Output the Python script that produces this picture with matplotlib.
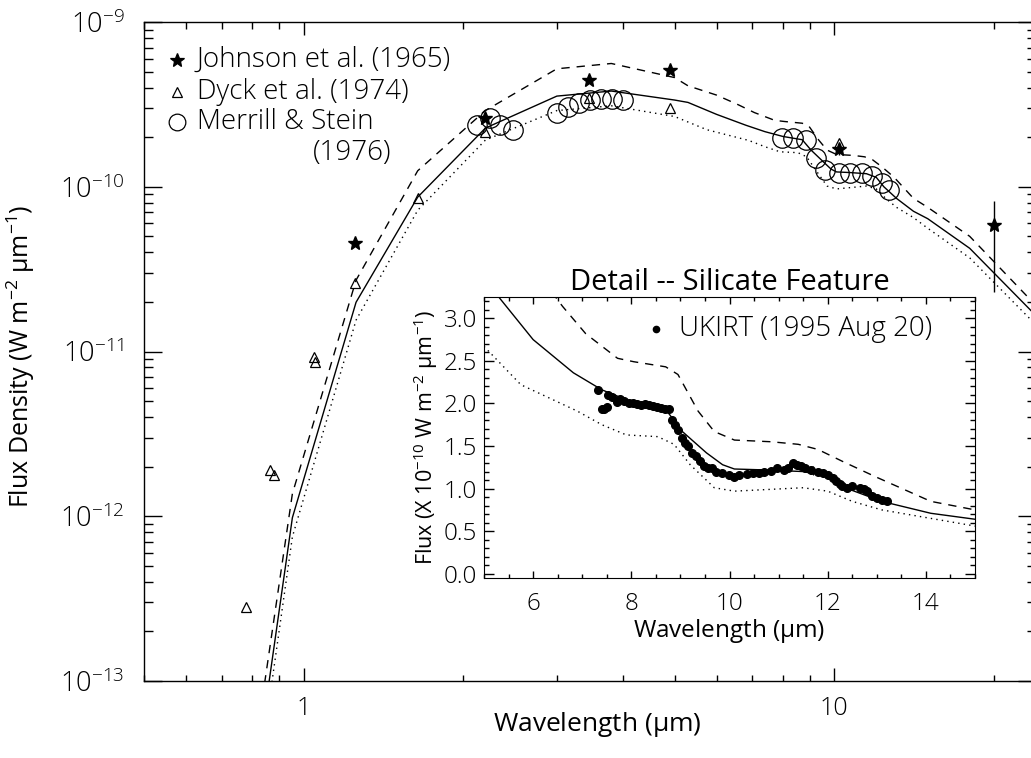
import numpy as np
import matplotlib
matplotlib.use("Agg")
import matplotlib.pyplot as plt
from matplotlib.ticker import LogLocator, FixedLocator, MultipleLocator, NullFormatter, FuncFormatter

plt.rcParams['font.family'] = ['Open Sans', 'DejaVu Sans']
plt.rcParams['font.weight'] = 'light'
plt.rcParams['mathtext.fontset'] = 'custom'
plt.rcParams['mathtext.rm'] = 'Open Sans:light'
plt.rcParams['mathtext.it'] = 'Open Sans:italic:light'
plt.rcParams['mathtext.default'] = 'regular'

# ---------------- data ----------------
# Johnson et al. (1965) (wavelength um, flux W m^-2 um^-1)
johnson_wl = [1.25, 2.2, 3.45, 4.9, 10.2, 20.0]
johnson_f = [4.54e-11, 2.61e-10, 4.45e-10, 5.11e-10, 1.70e-10, 5.9e-11]
johnson_err_lo = [0, 0, 0, 0, 1.5e-11, 3.6e-11]
johnson_err_hi = [0, 0, 0, 0, 1.5e-11, 2.3e-11]

# Dyck et al. (1974)
dyck_wl = [0.78, 0.865, 0.878, 1.046, 1.05, 1.25, 1.64, 2.2, 3.45, 4.9, 10.2]
dyck_f = [2.83e-13, 1.92e-12, 1.79e-12, 9.2e-12, 8.6e-12, 2.6e-11, 8.5e-11,
          2.15e-10, 3.45e-10, 3.0e-10, 1.84e-10]

# Merrill & Stein (1976)
merrill_wl = [2.12, 2.24, 2.34, 2.48, 3.00, 3.15, 3.30, 3.46, 3.63, 3.81, 3.99,
              7.96, 8.35, 8.84, 9.22, 9.62, 10.2, 10.7, 11.3, 11.8, 12.3, 12.7]
merrill_f = [2.37e-10, 2.61e-10, 2.37e-10, 2.21e-10, 2.80e-10, 3.05e-10, 3.22e-10,
             3.36e-10, 3.40e-10, 3.40e-10, 3.36e-10,
             1.97e-10, 1.97e-10, 1.92e-10, 1.49e-10, 1.26e-10, 1.21e-10, 1.21e-10,
             1.21e-10, 1.16e-10, 1.05e-10, 0.955e-10]

# Models (flux in units of 1e-10 W m^-2 um^-1)
solid_wl = [0.80, 0.952, 1.255, 1.64, 2.2, 3.0, 3.8, 5.0, 5.3, 6.0, 6.82, 7.4, 8.0,
            8.7, 9.04, 9.53, 9.86, 10.1, 10.68, 11.5, 12.0, 12.4, 13.1, 14.1, 15.0,
            18.0, 24.0]
solid_f = [0.00019, 0.0098, 0.199, 0.865, 2.27, 3.55, 3.81, 3.36, 3.25, 2.75, 2.36,
           2.16, 2.02, 1.93, 1.67, 1.42, 1.28, 1.23, 1.22, 1.20, 1.14, 1.00, 0.85,
           0.71, 0.64, 0.423, 0.165]

dashed_wl = [0.80, 0.952, 1.255, 1.64, 2.2, 3.0, 3.8, 5.0, 5.3, 6.0, 6.6, 7.07, 7.72,
             8.05, 8.7, 8.95, 9.36, 9.69, 10.1, 10.85, 11.4, 11.8, 12.3, 12.97, 14.1,
             15.0, 18.0, 24.0]
dashed_f = [0.0003, 0.0137, 0.271, 1.25, 2.9, 5.2, 5.6, 4.6, 4.1, 3.6, 3.14, 2.82,
            2.53, 2.49, 2.43, 2.34, 1.91, 1.67, 1.57, 1.55, 1.52, 1.46, 1.32, 1.14,
            0.85, 0.75, 0.50, 0.19]

dotted_wl = [0.80, 0.952, 1.255, 1.64, 2.2, 3.0, 3.8, 5.0, 5.75, 6.9, 7.4, 7.9, 8.54,
             8.87, 9.2, 9.69, 10.1, 11.5, 12.0, 12.5, 13.1, 14.1, 15.0, 18.0, 24.0]
dotted_f = [0.00014, 0.0075, 0.155, 0.72, 1.92, 2.9, 3.1, 2.67, 2.22, 1.91, 1.75,
            1.63, 1.61, 1.52, 1.28, 1.01, 0.97, 1.01, 0.97, 0.85, 0.75, 0.65, 0.56,
            0.37, 0.145]

# UKIRT (1995 Aug 20) spectrum, units 1e-10
ukirt_wl = [7.33, 7.40, 7.45, 7.50, 7.52, 7.60, 7.70, 7.78, 7.86, 7.95, 8.03, 8.11,
            8.19, 8.28, 8.36, 8.44, 8.52, 8.60, 8.68, 8.76, 8.83, 8.90, 8.95, 9.03,
            9.10, 9.15, 9.23, 9.32, 9.40, 9.48, 9.57, 9.65, 9.73, 9.85, 9.98, 10.10,
            10.20, 10.35, 10.47, 10.60, 10.70, 10.85, 10.97, 11.10, 11.20, 11.30,
            11.38, 11.46, 11.54, 11.67, 11.80, 11.90, 12.00, 12.10, 12.17, 12.25,
            12.30, 12.40, 12.50, 12.65, 12.73, 12.80, 12.90, 13.00, 13.10, 13.20]
ukirt_f = [2.16, 1.93, 1.94, 1.96, 2.10, 2.07, 2.02, 2.05, 2.03, 2.00, 2.00, 1.99,
           1.98, 1.99, 1.98, 1.97, 1.96, 1.95, 1.93, 1.93, 1.81, 1.75, 1.69, 1.59,
           1.54, 1.50, 1.42, 1.38, 1.32, 1.26, 1.24, 1.24, 1.20, 1.18, 1.16, 1.14,
           1.16, 1.17, 1.18, 1.18, 1.20, 1.21, 1.24, 1.22, 1.24, 1.30, 1.28, 1.26,
           1.24, 1.22, 1.20, 1.18, 1.16, 1.12, 1.09, 1.05, 1.03, 1.01, 1.03, 1.01,
           0.99, 0.97, 0.91, 0.89, 0.87, 0.85]

xticks_main = [1, 10]
yticks_main = [1e-13, 1e-12, 1e-11, 1e-10, 1e-9]
inset_xticks = [6, 8, 10, 12, 14]
inset_yticks = [0.0, 0.5, 1.0, 1.5, 2.0, 2.5, 3.0]

# ---------------- figure ----------------
W, H = 1031, 758
fig = plt.figure(figsize=(W / 100, H / 100), dpi=100)
fig.patch.set_facecolor('white')

def fx(px):
    return px / W

def fy(py):
    return 1 - py / H

PT = 72 / 100.0  # points per pixel

AX_L, AX_R, AX_T, AX_B = 144, 1036, 22, 681
ax = fig.add_axes([fx(AX_L), fy(AX_B), fx(AX_R) - fx(AX_L), fy(AX_T) - fy(AX_B)])
ax.set_xscale('log')
ax.set_yscale('log')
ax.set_xlim(0.5, 24)
ax.set_ylim(1e-13, 1e-9)

scale = 1e-10
lw = 1.0
ax.plot(solid_wl, np.array(solid_f) * scale, '-', color='black', lw=lw)
ax.plot(dashed_wl, np.array(dashed_f) * scale, color='black', lw=lw, dashes=(6, 5))
ax.plot(dotted_wl, np.array(dotted_f) * scale, color='black', lw=lw, dashes=(1, 3))

ax.errorbar(johnson_wl, johnson_f, yerr=[johnson_err_lo, johnson_err_hi], fmt='none',
            ecolor='black', elinewidth=1, capsize=0)
ax.plot(johnson_wl, johnson_f, linestyle='none', marker='*', ms=10, color='black',
        mec='black')
ax.plot(dyck_wl, dyck_f, linestyle='none', marker='^', ms=7, mfc='none', mec='black',
        mew=0.9)
ax.plot(merrill_wl, merrill_f, linestyle='none', marker='o', ms=14, mfc='none',
        mec='black', mew=0.9)

ax.tick_params(which='both', direction='in', top=True, right=True, color='black',
               width=1)
ax.tick_params(axis='x', which='major', length=13 * PT)
ax.tick_params(axis='x', which='minor', length=6.5 * PT)
ax.tick_params(axis='y', which='major', length=18 * PT)
ax.tick_params(axis='y', which='minor', length=9 * PT)
ax.xaxis.set_major_locator(FixedLocator(xticks_main))
ax.xaxis.set_minor_locator(LogLocator(base=10, subs=np.arange(2, 10)))
ax.xaxis.set_minor_formatter(NullFormatter())
ax.xaxis.set_major_formatter(FuncFormatter(lambda v, p: '%d' % v))
ax.yaxis.set_major_locator(FixedLocator(yticks_main))
ax.yaxis.set_minor_locator(LogLocator(base=10, subs=np.arange(2, 10)))
ax.yaxis.set_minor_formatter(NullFormatter())
ax.yaxis.set_major_formatter(FuncFormatter(
    lambda v, p: r'$10^{\minus %d}$' % int(round(-np.log10(v)))))
ax.tick_params(axis='x', labelsize=18, pad=11)
ax.tick_params(axis='y', labelsize=19.5, pad=14)
for s in ax.spines.values():
    s.set_linewidth(1)

ax_w = AX_R - AX_L
ax_h = AX_B - AX_T
ax.set_xlabel(r'Wavelength ($\mu$m)', fontsize=19)
ax.xaxis.set_label_coords((597 - AX_L) / ax_w, (AX_B - 710) / ax_h)
ax.set_ylabel(r'Flux Density (W m$^{-2}$ $\mu$m$^{-1}$)', fontsize=18)
ax.yaxis.set_label_coords((37 - AX_L) / ax_w, (AX_B - 356) / ax_h)

# legend (manual)
leg_items = [('*', 'black', 10, 'Johnson et al. (1965)'),
             ('^', 'none', 7, 'Dyck et al. (1974)'),
             ('o', 'none', 12, 'Merrill & Stein')]
ly = [60, 92, 122]
for (m, fc, ms, lab), yy in zip(leg_items, ly):
    fig.lines.append(plt.Line2D([fx(177)], [fy(yy)], transform=fig.transFigure,
                                marker=m, ms=ms, mfc=fc, mec='black', mew=0.9,
                                linestyle='none'))
    fig.text(fx(197), fy(yy), lab, fontsize=20, va='center', ha='left')
fig.text(fx(313), fy(153), '(1976)', fontsize=20, va='center', ha='left')

# ---------------- inset ----------------
ix = fig.add_axes([fx(484), fy(578), fx(975) - fx(484), fy(297) - fy(578)])
ix.set_xlim(5, 15)
ix.set_ylim(-0.05, 3.25)
ix.plot(solid_wl, solid_f, '-', color='black', lw=lw)
ix.plot(dashed_wl, dashed_f, color='black', lw=lw, dashes=(6, 5))
ix.plot(dotted_wl, dotted_f, color='black', lw=lw, dashes=(1, 3))
ix.plot(ukirt_wl, ukirt_f, linestyle='none', marker='o', ms=5.5, color='black')
ix.errorbar([11.64, 11.70], [1.22, 1.21], yerr=[0.05, 0.05], fmt='none',
            ecolor='black', elinewidth=0.8, capsize=0)
ix.plot([8.5], [2.87], linestyle='none', marker='o', ms=4.5, color='black')
ix.text(8.97, 2.87, 'UKIRT (1995 Aug 20)', fontsize=20, va='center', ha='left')

ix.xaxis.set_major_locator(FixedLocator(inset_xticks))
ix.xaxis.set_minor_locator(MultipleLocator(0.5))
ix.yaxis.set_major_locator(FixedLocator(inset_yticks))
ix.yaxis.set_minor_locator(MultipleLocator(0.1))
ix.yaxis.set_major_formatter(FuncFormatter(lambda v, p: '%.1f' % v))
ix.tick_params(which='both', direction='in', top=True, right=True, width=1)
ix.tick_params(axis='x', which='major', length=7 * PT)
ix.tick_params(axis='x', which='minor', length=4 * PT)
ix.tick_params(axis='y', which='major', length=10 * PT)
ix.tick_params(axis='y', which='minor', length=5 * PT)
ix.tick_params(axis='both', labelsize=17.5)
ix.tick_params(axis='x', pad=10)
ix.tick_params(axis='y', pad=5)
ix.set_xlabel(r'Wavelength ($\mu$m)', fontsize=17.5, labelpad=1)
ix.set_ylabel(r'Flux (X 10$^{-10}$ W m$^{-2}$ $\mu$m$^{-1}$)', fontsize=15.5, labelpad=3)
ix.set_title('Detail -- Silicate Feature', fontsize=21, pad=4)

fig.savefig('out.png', dpi=100, facecolor='white')
